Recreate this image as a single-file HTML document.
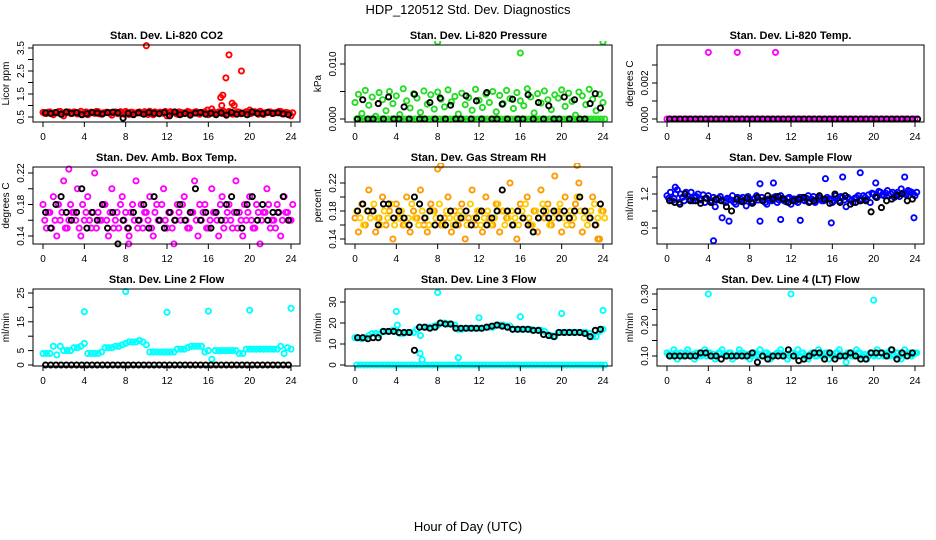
<!DOCTYPE html>
<html><head><meta charset="utf-8"><style>
html,body{margin:0;padding:0;background:#fff}
svg{display:block;font-family:"Liberation Sans",Arial,sans-serif}
</style></head><body>
<svg id="chart" width="936" height="540" viewBox="0 0 936 540" xmlns="http://www.w3.org/2000/svg">
<text x="468" y="14" text-anchor="middle" font-size="13">HDP_120512  Std. Dev. Diagnostics</text>
<text x="468" y="531" text-anchor="middle" font-size="13">Hour of Day (UTC)</text>
</svg>
<script>
const hourTicks=[0,4,8,12,16,20,24];
// Panel 1 CO2
const co2Color=[0.70,0.65,0.72,0.60,0.68,0.74,0.55,0.70,0.66,0.72,0.63,0.75,0.68,0.60,0.71,0.66,0.73,0.62,0.69,0.70,0.58,0.72,0.65,0.68,0.74,0.61,0.70,0.67,0.72,0.64,0.69,0.75,0.60,0.68,0.71,0.66,0.55,0.73,0.69,0.62,0.70,0.68,0.74,0.63,0.71,0.66,0.69,0.72,0.60,0.85,0.67,0.72,0.65,0.70,0.74,0.62,0.69,0.71,0.66,0.73,0.64,0.70,0.68,0.75,0.61,0.69,0.72,0.66,0.70,0.74,0.63,0.68,0.55];
const co2Color2=[0.66,0.71,0.64,0.69,0.73,0.62,0.68,0.72,0.65,0.70,0.67,0.61,0.72,0.66,0.69,0.74,0.63,0.68,0.71,0.65,0.70,0.66,0.73,0.62,0.69,0.71,0.64,0.70,0.67,0.73,0.61,0.68,0.72,0.65,0.69,0.74,0.63,0.70,0.66,0.72,0.64,0.69,0.71,0.67,0.73,0.62,0.70,0.66,0.68,0.72,0.65,0.69,0.74,0.63,0.70,0.67,0.72,0.64,0.69,0.71,0.66,0.73,0.62,0.70,0.68,0.72,0.65,0.69,0.74,0.63,0.70,0.66,0.68];
const co2Black=[0.68,0.65,0.70,0.62,0.72,0.66,0.69,0.60,0.64,0.70,0.67,0.63,0.69,0.71,0.68,0.45,0.66,0.60,0.68,0.62,0.70,0.66,0.64,0.70,0.55,0.72,0.60,0.65,0.58,0.67,0.70,0.62,0.66,0.60,0.68,0.58,0.70,0.62,0.66,0.60,0.72,0.66,0.64,0.70,0.66,0.68,0.64,0.60];
const co2OutHours=[10,17.2,17.4,17.3,17.7,18,18.3,18.5,19.2,15.9,20];
const co2OutVals=[3.6,1.35,1.45,1.0,2.2,3.2,1.1,1.0,2.5,0.8,0.8];
// Panel 2 pressure
const presColor=[0.0030,0.0045,0.0010,0.0052,0.0025,0.0040,0.0005,0.0048,0.0035,0.0015,0.0050,0.0028,0.0042,0.0008,0.0055,0.0033,0.0020,0.0046,0.0038,0.0012,0.0051,0.0027,0.0044,0.0018,0.0049,0.0036,0.0022,0.0053,0.0031,0.0041,0.0009,0.0047,0.0026,0.0039,0.0016,0.0054,0.0034,0.0021,0.0045,0.0030,0.0050,0.0013,0.0043,0.0028,0.0052,0.0037,0.0019,0.0048,0.0033,0.0024,0.0055,0.0040,0.0011,0.0046,0.0029,0.0051,0.0035,0.0017,0.0044,0.0038,0.0053,0.0023,0.0047,0.0032,0.0007,0.0049,0.0042,0.0026,0.0054,0.0036,0.0015,0.0045,0.0030];
const presColor2=[0,0,0,0,0,0,0,0,0,0,0,0,0,0,0,0,0,0,0,0,0,0,0,0,0,0,0,0,0,0,0,0,0,0,0,0,0,0,0,0,0,0,0,0,0,0,0,0,0,0,0,0,0,0,0,0,0,0,0,0,0,0,0,0,0,0,0,0,0,0,0,0,0];
const presBlack=[0,0.0035,0,0,0.0028,0,0.0040,0,0,0.0022,0,0.0045,0,0,0.0030,0,0.0038,0,0.0025,0,0,0.0042,0,0.0033,0,0.0048,0,0,0.0027,0,0.0036,0,0,0.0044,0,0.0030,0,0.0024,0,0,0.0040,0,0.0035,0,0,0.0028,0.0046,0.0020];
const presOutHours=[8,16,24];
const presOutVals=[0.014,0.012,0.014];
// Panel 3 temp
const tempColor=[0,0,0,0,0,0,0,0,0,0,0,0,0,0,0,0,0,0,0,0,0,0,0,0,0,0,0,0,0,0,0,0,0,0,0,0,0,0,0,0,0,0,0,0,0,0,0,0,0,0,0,0,0,0,0,0,0,0,0,0,0,0,0,0,0,0,0,0,0,0,0,0,0];
const tempBlack=[0,0,0,0,0,0,0,0,0,0,0,0,0,0,0,0,0,0,0,0,0,0,0,0,0,0,0,0,0,0,0,0,0,0,0,0,0,0,0,0,0,0,0,0,0,0,0,0,0];
const tempOutHours=[4,6.8,10.5];
const tempOutVals=[0.0037,0.0037,0.0037];
// Panel 4 amb box temp
const ambColor=[0.18,0.15,0.17,0.19,0.14,0.16,0.21,0.15,0.18,0.17,0.20,0.14,0.16,0.19,0.15,0.22,0.17,0.16,0.18,0.14,0.20,0.16,0.15,0.19,0.17,0.14,0.18,0.21,0.16,0.15,0.17,0.19,0.14,0.18,0.16,0.20,0.15,0.17,0.13,0.18,0.16,0.19,0.15,0.17,0.21,0.14,0.16,0.18,0.15,0.20,0.17,0.14,0.19,0.16,0.18,0.15,0.21,0.17,0.14,0.16,0.19,0.15,0.18,0.13,0.17,0.20,0.15,0.16,0.18,0.14,0.19,0.17,0.16];
const ambColor2=[0.16,0.17,0.15,0.16,0.18,0.17,0.15,0.16,0.17,0.16,0.15,0.18,0.17,0.16,0.17,0.15,0.16,0.18,0.16,0.17,0.15,0.17,0.18,0.16,0.15,0.17,0.16,0.15,0.18,0.17,0.16,0.15,0.17,0.16,0.18,0.16,0.17,0.15,0.16,0.17,0.18,0.16,0.15,0.17,0.16,0.18,0.17,0.15,0.16,0.17,0.16,0.18,0.15,0.17,0.16,0.17,0.15,0.16,0.18,0.17,0.16,0.15,0.17,0.16,0.17,0.18,0.16,0.15,0.17,0.16,0.17,0.16,0.18];
const ambBlack=[0.17,0.15,0.18,0.19,0.17,0.16,0.17,0.20,0.15,0.17,0.16,0.18,0.15,0.17,0.13,0.16,0.15,0.17,0.16,0.18,0.15,0.19,0.16,0.15,0.17,0.16,0.18,0.16,0.17,0.20,0.16,0.17,0.15,0.17,0.16,0.18,0.19,0.17,0.15,0.18,0.19,0.16,0.18,0.16,0.17,0.17,0.19,0.16];
const ambOutHours=[2.5,8.3];
const ambOutVals=[0.225,0.13];
// Panel 5 RH
const rhColor=[0.17,0.15,0.19,0.16,0.21,0.18,0.15,0.17,0.20,0.16,0.18,0.14,0.19,0.17,0.16,0.20,0.15,0.18,0.17,0.21,0.16,0.15,0.19,0.18,0.24,0.16,0.17,0.20,0.15,0.18,0.16,0.19,0.14,0.17,0.21,0.16,0.18,0.15,0.20,0.17,0.16,0.19,0.15,0.18,0.17,0.22,0.16,0.14,0.19,0.17,0.20,0.16,0.18,0.15,0.21,0.17,0.19,0.16,0.23,0.18,0.15,0.20,0.17,0.16,0.19,0.22,0.15,0.18,0.17,0.20,0.16,0.14,0.18];
const rhColor2=[0.18,0.17,0.16,0.18,0.17,0.19,0.17,0.16,0.18,0.17,0.19,0.16,0.17,0.18,0.16,0.17,0.19,0.17,0.16,0.18,0.17,0.16,0.18,0.17,0.19,0.16,0.18,0.17,0.16,0.17,0.18,0.17,0.16,0.19,0.17,0.18,0.16,0.17,0.18,0.16,0.17,0.19,0.18,0.16,0.17,0.18,0.17,0.16,0.18,0.19,0.17,0.16,0.18,0.17,0.19,0.18,0.16,0.17,0.18,0.19,0.17,0.16,0.18,0.17,0.20,0.18,0.17,0.16,0.18,0.19,0.17,0.18,0.17];
const rhBlack=[0.18,0.19,0.18,0.18,0.16,0.19,0.19,0.17,0.18,0.17,0.16,0.20,0.19,0.17,0.18,0.16,0.17,0.16,0.18,0.16,0.17,0.18,0.16,0.17,0.18,0.16,0.17,0.18,0.21,0.18,0.16,0.18,0.17,0.16,0.15,0.17,0.18,0.17,0.18,0.17,0.18,0.17,0.18,0.20,0.18,0.17,0.16,0.19];
const rhOutHours=[8.3,21.5,23.5];
const rhOutVals=[0.245,0.245,0.14];
// Panel 6 sample flow
const flowColor=[1.18,1.22,1.15,1.25,1.20,1.12,1.18,1.22,1.16,1.20,1.14,1.10,1.18,1.12,1.05,1.15,0.92,1.10,1.14,1.18,1.08,1.12,1.16,1.06,1.14,1.10,1.18,1.32,1.12,1.08,1.14,1.16,1.10,1.18,1.12,1.15,1.08,1.14,1.10,1.16,1.12,1.18,1.14,1.10,1.16,1.12,1.38,1.14,1.10,1.18,1.12,1.16,1.05,1.14,1.10,1.16,1.12,1.18,1.14,1.10,1.20,1.16,1.22,1.18,1.24,1.20,1.16,1.22,1.26,1.20,1.24,1.22,1.18];
const flowColor2=[1.15,1.12,1.20,1.10,1.16,1.22,1.14,1.12,1.17,1.13,1.19,1.15,1.11,1.16,1.13,1.17,1.12,1.15,1.13,1.10,1.16,1.14,1.12,1.17,1.11,1.15,1.13,1.16,1.10,1.14,1.12,1.17,1.13,1.15,1.11,1.16,1.14,1.12,1.16,1.13,1.15,1.11,1.17,1.13,1.15,1.12,1.16,1.14,1.12,1.15,1.17,1.13,1.16,1.12,1.15,1.18,1.14,1.16,1.19,1.21,1.17,1.23,1.19,1.21,1.18,1.22,1.20,1.17,1.21,1.19,1.23,1.20,1.22];
const flowBlack=[1.12,1.10,1.08,1.20,1.12,1.12,1.09,1.15,1.10,1.14,1.12,1.05,1.00,1.14,1.11,1.15,1.09,1.16,1.12,1.18,1.14,1.17,1.14,1.10,1.12,1.14,1.16,1.10,1.12,1.18,1.14,1.09,1.20,1.10,1.18,1.08,1.10,1.12,1.12,0.99,1.16,1.04,1.12,1.14,1.18,1.20,1.12,1.14];
const flowOutHours=[4.5,23,20.2,18.7,0.8,6,9,12.9,15.9,23.9,17,10.3,11];
const flowOutVals=[0.65,1.40,1.33,1.45,1.28,0.88,0.88,0.89,0.86,0.92,1.40,1.33,0.90];
// Panel 7 line 2
const l2Color=[4,4,4,6.5,3.5,6.5,5,5,5,6,6,6.5,7.5,4,4,4,4,4.5,6,6,6,6.5,6.5,7,7.5,8,8,8,8.5,8,7,4.5,4.5,4.5,4.5,4.5,4.5,4.5,4.5,5.5,5.5,5.5,6,6.5,6.5,6.5,6.5,4.5,5,2,5,5,5,5,5,5,5,4,4,5.5,5.5,5.5,5.5,5.5,5.5,5.5,5.5,5.5,5.5,6.5,4,6,5.5];
const l2Black=[0,0,0,0,0,0,0,0,0,0,0,0,0,0,0,0,0,0,0,0,0,0,0,0,0,0,0,0,0,0,0,0,0,0,0,0,0,0,0,0,0,0,0,0,0,0,0,0];
const l2OutHours=[4,8,12,16,20,24];
const l2OutVals=[18.5,25.5,18.3,18.7,19,19.7];
// Panel 8 line 3
const l3Color=[13,13,12.5,13,14,15,15,14.5,16,16,16,16.5,16.5,15,15,15.5,15.5,15.5,17,14,18,18,18,18.5,19,20,20,19.5,19.5,19,17,17,17.5,17.5,17.5,17.5,17.5,17.5,18,18,18,19,19,19,18.5,18.5,17,17,17,17,17,17,16.5,16.5,16.5,16,14.5,14,13.5,15.5,15.5,15.5,15.5,15.5,15.5,15.5,15.5,15.5,15,13.5,13.5,16,17];
const l3Color2=[0,0,0,0,0,0,0,0,0,0,0,0,0,0,0,0,0,0,0,0,0,0,0,0,0,0,0,0,0,0,0,0,0,0,0,0,0,0,0,0,0,0,0,0,0,0,0,0,0,0,0,0,0,0,0,0,0,0,0,0,0,0,0,0,0,0,0,0,0,0,0,0,0];
const l3Black=[13,13,12.5,13,13,16,16,16,15.5,15.5,15.5,7,18,18,17.5,18,20,19.5,19.5,17.5,17.5,17.5,17.5,17.5,17.5,18,18.5,19,18.5,18,17,17,17,17,16.5,16.5,14.5,14,13.5,15.5,15.5,15.5,15.5,15.5,15,13.5,16.5,17];
const l3OutHours=[4,8,12,16,20,24,4.1,6.3,6.5,10];
const l3OutVals=[25.5,34.5,22.5,23,24.5,26,19,5.5,2.5,3.5];
// Panel 9 line 4
const l4Color=[0.11,0.10,0.12,0.09,0.11,0.10,0.12,0.10,0.09,0.11,0.10,0.12,0.11,0.10,0.09,0.11,0.12,0.10,0.11,0.09,0.10,0.12,0.11,0.10,0.09,0.11,0.10,0.12,0.10,0.11,0.09,0.10,0.11,0.12,0.10,0.09,0.11,0.10,0.12,0.11,0.10,0.09,0.11,0.10,0.12,0.10,0.11,0.09,0.10,0.11,0.12,0.10,0.08,0.11,0.10,0.12,0.11,0.10,0.09,0.11,0.10,0.12,0.11,0.10,0.11,0.12,0.10,0.11,0.09,0.12,0.11,0.10,0.11];
const l4Color2=[0.105,0.1,0.11,0.105,0.1,0.11,0.1,0.105,0.11,0.1,0.105,0.1,0.11,0.105,0.1,0.11,0.105,0.1,0.11,0.1,0.105,0.11,0.1,0.105,0.1,0.11,0.105,0.1,0.11,0.105,0.1,0.105,0.11,0.1,0.105,0.1,0.11,0.105,0.1,0.11,0.1,0.105,0.11,0.1,0.105,0.1,0.11,0.105,0.1,0.11,0.105,0.1,0.11,0.1,0.105,0.11,0.1,0.105,0.1,0.11,0.105,0.1,0.11,0.105,0.1,0.105,0.11,0.1,0.105,0.1,0.11,0.105,0.11];
const l4Black=[0.10,0.10,0.10,0.10,0.10,0.10,0.11,0.11,0.10,0.10,0.09,0.10,0.10,0.10,0.10,0.10,0.11,0.08,0.10,0.09,0.10,0.10,0.10,0.12,0.10,0.085,0.09,0.10,0.11,0.11,0.09,0.11,0.09,0.10,0.10,0.11,0.10,0.09,0.09,0.11,0.11,0.11,0.10,0.12,0.09,0.11,0.10,0.11];
const l4OutHours=[4,12,20];
const l4OutVals=[0.30,0.30,0.28];

const panels=[
 {name:'co2',title:'Stan. Dev. Li-820 CO2',ylab:'Licor ppm',color:'#ff0000',color2:'#ff0000',c1:co2Color,c2:co2Color2,bk:co2Black,oh:co2OutHours,ov:co2OutVals,a:[0.5,117,3.5,48],ticks:[0.5,1,1.5,2,2.5,3,3.5],labels:['0.5','1.5','2.5','3.5']},
 {name:'pressure',title:'Stan. Dev. Li-820 Pressure',ylab:'kPa',color:'#22dd22',color2:'#22dd22',c1:presColor,c2:presColor2,bk:presBlack,oh:presOutHours,ov:presOutVals,a:[0,119,0.010,64],ticks:[0,0.005,0.010],labels:['0.000','0.010']},
 {name:'temp',title:'Stan. Dev. Li-820 Temp.',ylab:'degrees C',color:'#ff00ff',color2:'#ff00ff',c1:tempColor,c2:null,bk:tempBlack,oh:tempOutHours,ov:tempOutVals,a:[0,119,0.002,83],ticks:[0,0.001,0.002,0.003],labels:['0.000','0.002']},
 {name:'amb-box-temp',title:'Stan. Dev. Amb. Box Temp.',ylab:'degrees C',color:'#ff00ff',color2:'#ff00ff',c1:ambColor,c2:ambColor2,bk:ambBlack,oh:ambOutHours,ov:ambOutVals,a:[0.14,236,0.22,173],ticks:[0.14,0.16,0.18,0.20,0.22],labels:['0.14','0.18','0.22']},
 {name:'gas-rh',title:'Stan. Dev. Gas Stream RH',ylab:'percent',color:'#ff9900',color2:'#ffcc00',c1:rhColor,c2:rhColor2,bk:rhBlack,oh:rhOutHours,ov:rhOutVals,a:[0.14,239,0.22,183],ticks:[0.14,0.16,0.18,0.20,0.22],labels:['0.14','0.18','0.22']},
 {name:'sample-flow',title:'Stan. Dev. Sample Flow',ylab:'ml/min',color:'#0000ff',color2:'#0000ff',c1:flowColor,c2:flowColor2,bk:flowBlack,oh:flowOutHours,ov:flowOutVals,a:[0.8,228,1.2,194],ticks:[0.8,1.0,1.2,1.4],labels:['0.8','1.2']},
 {name:'line2-flow',title:'Stan. Dev. Line 2 Flow',ylab:'ml/min',color:'#00ffff',color2:'#00ffff',c1:l2Color,c2:null,bk:l2Black,oh:l2OutHours,ov:l2OutVals,a:[0,365,25,293],ticks:[0,5,10,15,20,25],labels:['0','5','15','25']},
 {name:'line3-flow',title:'Stan. Dev. Line 3 Flow',ylab:'ml/min',color:'#00ffff',color2:'#00ffff',c1:l3Color,c2:l3Color2,bk:l3Black,oh:l3OutHours,ov:l3OutVals,a:[0,365,30,302],ticks:[0,10,20,30],labels:['0','10','20','30']},
 {name:'line4-flow',title:'Stan. Dev. Line 4 (LT) Flow',ylab:'ml/min',color:'#00ffff',color2:'#00ffff',c1:l4Color,c2:l4Color2,bk:l4Black,oh:l4OutHours,ov:l4OutVals,a:[0.10,356,0.30,294],ticks:[0.10,0.15,0.20,0.25,0.30],labels:['0.10','0.20','0.30']}
];
const NS='http://www.w3.org/2000/svg';
const svg=document.getElementById('chart');
function mk(tag,attrs,parent){const e=document.createElementNS(NS,tag);for(const k in attrs)e.setAttribute(k,attrs[k]);(parent||svg).appendChild(e);return e;}
const rowTops=[45,167,289];
panels.forEach((p,i)=>{
  const col=i%3,row=Math.floor(i/3);
  const L=33+col*312,R=L+267,T=rowTops[row],B=T+77;
  const g=mk('g',{});
  
  
  const xs=h=>L+10+h*248/24;
  const ys=v=>p.a[1]+(v-p.a[0])*(p.a[3]-p.a[1])/(p.a[2]-p.a[0]);
  const t=mk('text',{x:(L+R)/2,y:T-6,'text-anchor':'middle','font-size':11,'font-weight':'bold'},g);
  t.textContent=p.title;
  
  
  const clip=mk('clipPath',{id:'cp'+i},g);mk('rect',{x:L-4,y:T-4,width:R-L+8,height:B-T+8},clip);
  const pts=mk('g',{'clip-path':'url(#cp'+i+')',fill:'none','stroke-width':1.9},g);
  function draw(arr,color,shift,step,start,nm){
    arr.forEach((v,j)=>{
      const c=mk('circle',{cx:xs(start+j*step+shift),cy:ys(v),r:2.6,stroke:color},pts);
      
      
    });
  }
  draw(p.c1,p.color,0,24/(p.c1.length-1),0,p.name+'-point');
  if(p.c2)draw(p.c2,p.color2,1/6,24/(p.c2.length-1),0,p.name+'-point');
  p.oh.forEach((h,j)=>{
    const c=mk('circle',{cx:xs(h),cy:ys(p.ov[j]),r:2.6,stroke:p.color},pts);
    
    
  });
  draw(p.bk,'#000',0,0.5,0.25,p.name+'-black-point');
  mk('rect',{x:L,y:T,width:R-L,height:B-T,fill:'none',stroke:'#000','stroke-width':1},g);
  hourTicks.forEach(h=>{
    mk('line',{x1:xs(h),x2:xs(h),y1:B,y2:B+5,stroke:'#000'},g);
    const tx=mk('text',{x:xs(h),y:B+18,'text-anchor':'middle','font-size':10},g);
    tx.textContent=h;
    
    
  });
  p.ticks.forEach(v=>{mk('line',{x1:L-5,x2:L,y1:ys(v),y2:ys(v),stroke:'#000'},g);});
  p.labels.forEach(s=>{
    const v=parseFloat(s),y=ys(v);
    const tx=mk('text',{x:L-9,y:y,'text-anchor':'middle','font-size':10,transform:'rotate(-90 '+(L-9)+' '+y+')'},g);
    tx.textContent=s;
    
    
  });
  const yc=(T+B)/2;
  const yl=mk('text',{x:L-24,y:yc,'text-anchor':'middle','font-size':10,transform:'rotate(-90 '+(L-24)+' '+yc+')'},g);
  yl.textContent=p.ylab;
  
  
});
</script>
</body></html>
